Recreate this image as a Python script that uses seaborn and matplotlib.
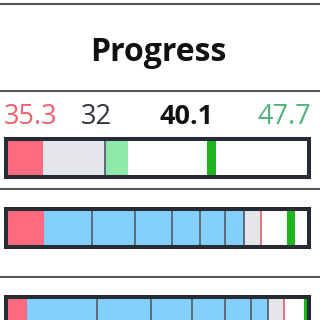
import matplotlib
matplotlib.use("Agg")
import matplotlib.pyplot as plt
import seaborn as sns

sns.set_theme(style="white")
plt.rcParams["font.family"] = ["Open Sans", "DejaVu Sans"]

# ---- data (bar scale 0..100) ----
title = "Progress"
value_labels = ["35.3", "32", "40.1", "47.7"]
value_colors = ["#f0606e", "#30343c", "#111111", "#4db37c"]
value_weights = ["normal", "normal", "bold", "normal"]
value_x_px = [31, 96, 186, 284]

# segments per row: (start, end, colour)
row1_starts = [0, 12.1, 32.8, 40.3]
row1_ends = [12.1, 32.8, 40.3, 100]
row1_colors = ["#fe6a80", "#e5e6ea", "#8eeaa8", "#ffffff"]
row1_seps = [32.8]
row1_redline = []
row1_marker = [66.4, 69.3]

row2_starts = [0, 12.7, 78.7, 84.2]
row2_ends = [12.7, 78.7, 84.2, 100]
row2_colors = ["#fe6a80", "#82d0fb", "#e5e6ea", "#ffffff"]
row2_seps = [28.5, 42.7, 54.8, 63.9, 72.4, 78.7]
row2_redline = [84.3]
row2_marker = [92.7, 95.4]

row3_starts = [0, 7.0, 86.6, 91.9]
row3_ends = [7.0, 86.6, 91.9, 100]
row3_colors = ["#fe6a80", "#82d0fb", "#e5e6ea", "#ffffff"]
row3_seps = [30.0, 47.7, 61.3, 72.4, 80.8, 86.6]
row3_redline = [91.9]
row3_marker = [98.2, 100.8]

rows = [
    (row1_starts, row1_ends, row1_colors, row1_seps, row1_redline, row1_marker),
    (row2_starts, row2_ends, row2_colors, row2_seps, row2_redline, row2_marker),
    (row3_starts, row3_ends, row3_colors, row3_seps, row3_redline, row3_marker),
]
row_top_px = [139, 209, 297]   # frame line centres
bar_h_px = 38

W = H = 320
fig = plt.figure(figsize=(3.2, 3.2), dpi=100)
fig.patch.set_facecolor("white")

# background axes in pixel coords
bg = fig.add_axes([0, 0, 1, 1])
bg.set_xlim(0, W)
bg.set_ylim(H, 0)
bg.axis("off")
for y in [3.7, 91, 189, 276.5]:
    bg.axhline(y, color="#555555", lw=1.5)

bg.text(158.5, 61.3, title, ha="center", va="baseline", fontsize=23,
        fontweight="bold", color="#111111")
for lab, col, wt, x in zip(value_labels, value_colors, value_weights, value_x_px):
    bg.text(x, 124.5, lab, ha="center", va="baseline", fontsize=19.5,
            fontweight=wt, color=col)

for (starts, ends, cols, seps, reds, marker), top in zip(rows, row_top_px):
    ax = fig.add_axes([6 / W, 1 - (top + bar_h_px) / H, 303 / W, bar_h_px / H])
    widths = [e - s for s, e in zip(starts, ends)]
    ax.barh([0.5] * len(starts), widths, left=starts, height=1.0,
            color=cols, edgecolor="none", linewidth=0)
    ax.barh([0.5], [marker[1] - marker[0]], left=[marker[0]], height=1.0,
            color="#1fb51f", edgecolor="none", linewidth=0)
    if seps:
        ax.vlines(seps, 0, 1, color="#5d6b78", lw=1.4)
    if reds:
        ax.vlines(reds, 0, 1, color="#e0505a", lw=1.1)
    ax.set_xlim(0, 100)
    ax.set_ylim(0, 1)
    ax.set_xticks([])
    ax.set_yticks([])
    for sp in ax.spines.values():
        sp.set_visible(True)
        sp.set_color("#262b35")
        sp.set_linewidth(2.9)

fig.savefig("out.png", dpi=100, facecolor="white")
